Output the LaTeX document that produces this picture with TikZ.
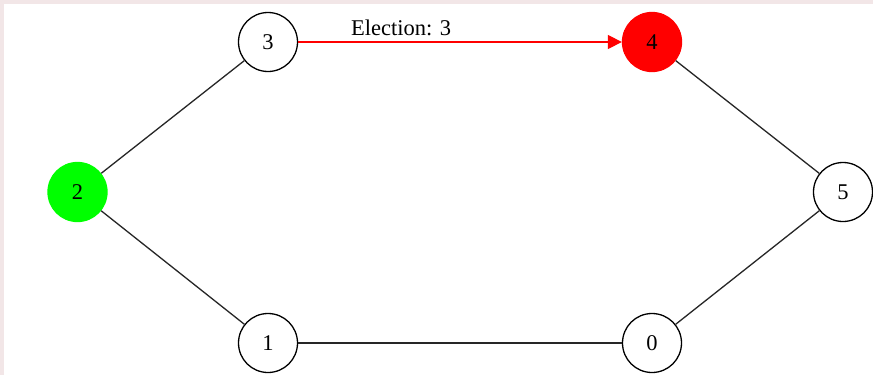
\documentclass[tikz,border=0pt]{standalone}
\usepackage{fontspec}
\setmainfont{Liberation Serif}
\usetikzlibrary{arrows.meta}
\definecolor{bgpink}{RGB}{242,230,231}
\definecolor{gvgreen}{RGB}{0,255,0}
\definecolor{gvred}{RGB}{255,0,0}
\begin{document}
\begin{tikzpicture}[x=1pt,y=-1pt,
  vnode/.style={circle,draw=black,line width=1.3pt,fill=white,minimum size=59pt,inner sep=0pt,font=\fontsize{22.5}{24}\selectfont},
  gnode/.style={vnode,draw=gvgreen,fill=gvgreen},
  rnode/.style={vnode,draw=gvred,fill=gvred},
  link/.style={line width=1.3pt,draw=black!85},
  elink/.style={line width=1.3pt,draw=gvred,-{Triangle[length=14pt,width=14pt]}},
  lbl/.style={font=\fontsize{22.5}{24}\selectfont,inner sep=0pt}]
\fill[bgpink] (0,0) rectangle (873,375);
\fill[white] (3.5,4) rectangle (873,375);
\useasboundingbox (0,0) rectangle (873,375);
\node[vnode] (n3) at (268,42) {3};
\node[rnode] (n4) at (652,42) {4};
\node[gnode] (n2) at (77.5,192) {2};
\node[vnode] (n5) at (843,192) {5};
\node[vnode] (n1) at (268,343) {1};
\node[vnode] (n0) at (652,343) {0};
\draw[link] (n3) -- (n2);
\draw[link] (n2) -- (n1);
\draw[link] (n1) -- (n0);
\draw[link] (n0) -- (n5);
\draw[link] (n5) -- (n4);
\draw[elink] (n3) -- (n4);
\node[lbl] (el) at (401,28) {Election: 3};
\end{tikzpicture}
\end{document}
